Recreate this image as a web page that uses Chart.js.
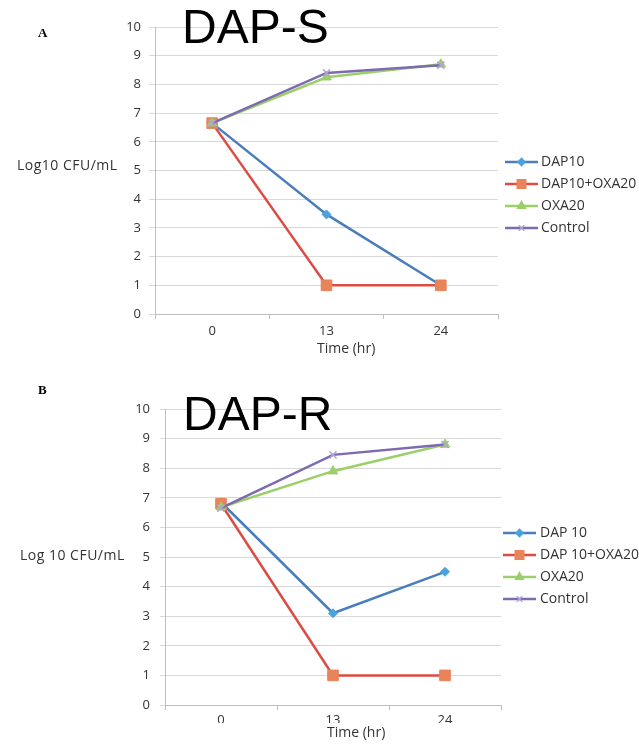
<!DOCTYPE html>
<html lang="en">
<head>
<meta charset="UTF-8">
<title>DAP-S / DAP-R time-kill curves</title>
<script src="https://cdn.jsdelivr.net/npm/chart.js"></script>
<style>
  body { margin: 0; background: #fff; }
  #page { position: relative; width: 639px; height: 748px; overflow: hidden; }
  canvas { position: absolute; left: 0; }
  .lbl { position: absolute; white-space: nowrap; color: #333; font-family: "Open Sans", sans-serif; font-size: 14px; line-height: 16px; z-index: 2; }
  .panel { font-family: "Liberation Serif", serif; font-weight: bold; font-size: 13px; line-height: 13px; color: #000; }
  .big { font-family: "Liberation Sans", Arial, sans-serif; font-size: 48px; line-height: 48px; color: #000; }
</style>
</head>
<body>
<div id="page">
  <canvas id="chartS" width="639" height="370" style="top:0"></canvas>
  <canvas id="chartR" width="639" height="378" style="top:370px"></canvas>

  <div class="lbl panel" style="left:38px;top:26px">A</div>
  <div class="lbl big" style="left:182px;top:3px">DAP-S</div>
  <div class="lbl" style="left:17px;top:157px;letter-spacing:0.5px">Log10 CFU/mL</div>
  <div class="lbl" style="left:317px;top:340px">Time (hr)</div>

  <div class="lbl panel" style="left:38px;top:383px">B</div>
  <div class="lbl big" style="left:183px;top:390px">DAP-R</div>
  <div class="lbl" style="left:20px;top:547px;letter-spacing:0.5px">Log 10 CFU/mL</div>
  <div class="lbl" style="left:327px;top:724px">Time (hr)</div>
</div>

<script>
// x tick labels (hours)
const times = ['0', '13', '24'];

// panel A: DAP-S
const namesS = ['DAP10', 'DAP10+OXA20', 'OXA20', 'Control'];
const dapS_dap10   = [6.65, 3.47, 1.0];
const dapS_combo   = [6.65, 1.0, 1.0];
const dapS_oxa20   = [6.65, 8.25, 8.7];
const dapS_control = [6.65, 8.4, 8.67];

// panel B: DAP-R
const namesR = ['DAP 10', 'DAP 10+OXA20', 'OXA20', 'Control'];
const dapR_dap10   = [6.85, 3.1, 4.5];
const dapR_combo   = [6.8, 1.0, 1.0];
const dapR_oxa20   = [6.68, 7.9, 8.8];
const dapR_control = [6.65, 8.45, 8.8];

// excel-ish series looks
const looks = [
    { line: '#4a7ebb', fill: '#4aa3df', shape: 'rectRot',  r: 4.5 },
    { line: '#dd4b45', fill: '#e8835a', shape: 'rect',     r: 7.5 },
    { line: '#9bcf6a', fill: '#9bcf6a', shape: 'triangle', r: 5.5 },
    { line: '#7e6aae', fill: '#b2a3d6', shape: 'crossRot', r: 5 }
];

const tickFont = { family: '"Open Sans", sans-serif', size: 13 };

// little line + marker picture for the legend
function makeIcon(k, lineFrom) {
    const c = document.createElement('canvas');
    c.width = 36;
    c.height = 14;
    const g = c.getContext('2d');
    g.strokeStyle = looks[k].line;
    g.lineWidth = 2.5;
    g.beginPath();
    g.moveTo(lineFrom, 7);
    g.lineTo(lineFrom + 33, 7);
    g.stroke();
    g.fillStyle = looks[k].fill;
    g.strokeStyle = looks[k].fill;
    g.lineWidth = 1.5;
    if (Chart.helpers && Chart.helpers.drawPoint) {
        Chart.helpers.drawPoint(g, { pointStyle: looks[k].shape, radius: looks[k].r * 0.8, rotation: 0, borderWidth: 1.5 }, lineFrom + 16.5, 7);
    }
    return c;
}

function buildChart(id, names, series, p) {
    const icons = series.map((s, k) => makeIcon(k, p.iconLine));
    return new Chart(document.getElementById(id), {
        type: 'line',
        data: {
            labels: times,
            datasets: series.map((vals, k) => ({
                label: names[k],
                data: vals,
                order: 4 - k,
                borderColor: looks[k].line,
                borderWidth: 2.5,
                pointStyle: looks[k].shape,
                pointRadius: looks[k].r,
                pointBackgroundColor: looks[k].fill,
                pointBorderColor: looks[k].fill,
                pointBorderWidth: k === 3 ? 1.5 : 1,
                tension: 0,
                fill: false
            }))
        },
        options: {
            responsive: false,
            animation: false,
            layout: { padding: { left: 100, right: 0, top: p.top, bottom: p.bottom } },
            plugins: {
                tooltip: { enabled: false },
                legend: {
                    position: 'right',
                    align: 'center',
                    maxWidth: p.legendWidth,
                    labels: {
                        usePointStyle: true,
                        pointStyleWidth: p.boxW,
                        padding: 8,
                        color: '#333',
                        font: { family: '"Open Sans", sans-serif', size: 14 },
                        generateLabels: (chart) => chart.data.datasets.map((ds, i) => ({
                            text: ds.label,
                            pointStyle: icons[i],
                            fontColor: '#333',
                            fillStyle: 'transparent',
                            strokeStyle: 'transparent',
                            lineWidth: 0,
                            hidden: false,
                            datasetIndex: i
                        }))
                    }
                }
            },
            scales: {
                x: {
                    offset: true,
                    grid: { display: true, offset: true, drawOnChartArea: false, drawTicks: true, tickLength: 5, color: '#bfbfbf' },
                    border: { color: '#bfbfbf' },
                    ticks: { padding: p.xPad, color: '#333', font: tickFont },
                    afterFit: (s) => { s.height = p.xh; }
                },
                y: {
                    min: 0,
                    max: 10,
                    ticks: { stepSize: 1, padding: p.yPad, color: '#333', font: tickFont },
                    grid: { color: '#d9d9d9', drawTicks: true, tickLength: p.yTick },
                    border: { color: '#bfbfbf' },
                    afterFit: (s) => { s.width = p.yw; }
                }
            }
        }
    });
}

buildChart('chartS', namesS, [dapS_dap10, dapS_combo, dapS_oxa20, dapS_control],
    { top: 27, bottom: 7, xh: 49, xPad: 4, yw: 55, yPad: 8, yTick: 6, legendWidth: 141, boxW: 28, iconLine: 3 });

buildChart('chartR', namesR, [dapR_dap10, dapR_combo, dapR_oxa20, dapR_control],
    { top: 39, bottom: 25, xh: 18, xPad: 2, yw: 65, yPad: 10, yTick: 5, legendWidth: 138, boxW: 24, iconLine: 0 });
</script>
</body>
</html>
